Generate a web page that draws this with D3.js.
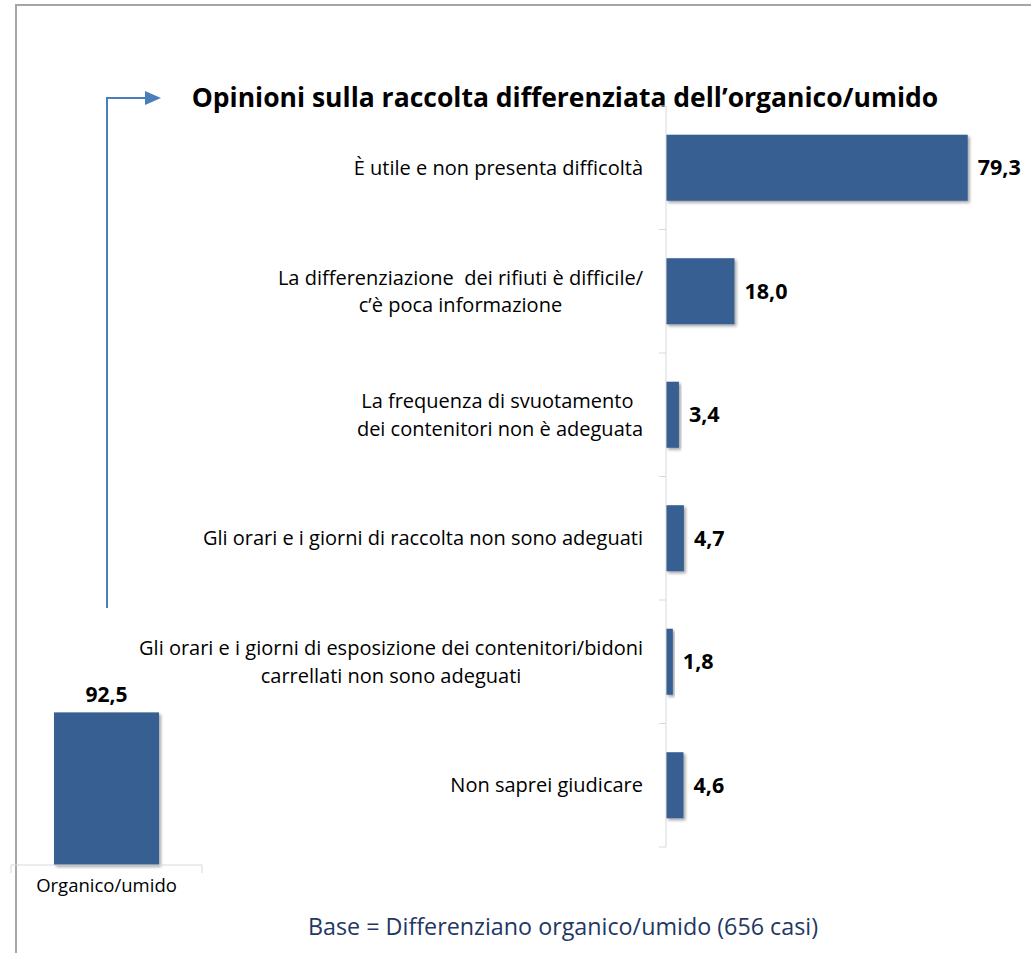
<!DOCTYPE html>
<html>
<head>
<meta charset="utf-8">
<script src="https://cdn.jsdelivr.net/npm/d3@7"></script>
<style>
  body { margin: 0; background: #fff; }
  text { font-family: "Open Sans", "Noto Sans", sans-serif; }
</style>
</head>
<body>
<div id="chart"></div>
<script>
const title = 'Opinioni sulla raccolta differenziata dell’organico/umido';
const footnote = 'Base = Differenziano organico/umido (656 casi)';

const totalCategories = ['Organico/umido'];
const totalValues = [92.5];

const opinionLabels = [
    ['È utile e non presenta difficoltà'],
    ['La differenziazione  dei rifiuti è difficile/', 'c’è poca informazione'],
    ['La frequenza di svuotamento ', 'dei contenitori non è adeguata'],
    ['Gli orari e i giorni di raccolta non sono adeguati'],
    ['Gli orari e i giorni di esposizione dei contenitori/bidoni', 'carrellati non sono adeguati'],
    ['Non saprei giudicare']
];
const opinionValues = [79.3, 18.0, 3.4, 4.7, 1.8, 4.6];

const fmt = (v) => v.toFixed(1).replace('.', ',');

const width = 1031;
const height = 953;
const barColor = '#375f92';

const svg = d3.select('#chart')
    .append('svg')
    .attr('width', width)
    .attr('height', height);

const defs = svg.append('defs');
defs.append('filter')
    .attr('id', 'shadow')
    .attr('x', '-10%').attr('y', '-10%')
    .attr('width', '130%').attr('height', '130%')
    .append('feDropShadow')
    .attr('dx', 2).attr('dy', 2)
    .attr('stdDeviation', 1.5)
    .attr('flood-color', '#000')
    .attr('flood-opacity', 0.35);

// frame
svg.append('rect')
    .attr('x', 16).attr('y', 5)
    .attr('width', 1100).attr('height', 1000)
    .attr('fill', 'none')
    .attr('stroke', '#a6a6a6')
    .attr('stroke-width', 2);

// title
svg.append('text')
    .attr('x', 565).attr('y', 107)
    .attr('text-anchor', 'middle')
    .attr('font-size', 26.5)
    .attr('font-weight', 'bold')
    .attr('fill', '#000')
    .text(title);

// connector arrow
svg.append('path')
    .attr('d', 'M107,608 V98 H146')
    .attr('fill', 'none')
    .attr('stroke', '#4a7ebb')
    .attr('stroke-width', 2);
svg.append('path')
    .attr('d', 'M145,91 L161,98 L145,105 Z')
    .attr('fill', '#4a7ebb');

// ---- left: total column ----
const xTot = d3.scaleBand()
    .domain(totalCategories)
    .range([11, 202])
    .paddingInner(0.45)
    .paddingOuter(0.225);

const yTot = d3.scaleLinear()
    .domain([0, 100])
    .range([865, 700]);

const left = svg.append('g');

left.selectAll('rect')
    .data(totalValues)
    .join('rect')
    .attr('x', (d, i) => xTot(totalCategories[i]))
    .attr('y', (d) => yTot(d))
    .attr('width', xTot.bandwidth())
    .attr('height', (d) => yTot(0) - yTot(d))
    .attr('fill', barColor)
    .attr('filter', 'url(#shadow)');

left.selectAll('text.val')
    .data(totalValues)
    .join('text')
    .attr('class', 'val')
    .attr('x', (d, i) => xTot(totalCategories[i]) + xTot.bandwidth() / 2)
    .attr('y', (d) => yTot(d) - 10)
    .attr('text-anchor', 'middle')
    .attr('font-size', 21)
    .attr('font-weight', 'bold')
    .text(fmt);

const xAxisTot = d3.axisBottom(xTot).tickSize(0).tickPadding(14);
const gx = left.append('g')
    .attr('transform', `translate(0,${yTot(0)})`)
    .call(xAxisTot);
gx.select('.domain').attr('stroke', '#d9d9d9').attr('d', 'M11,8V0H202V8');
gx.selectAll('text')
    .attr('font-size', 18.5)
    .attr('fill', '#000')
    .style('font-family', '"Open Sans", sans-serif');

// ---- right: opinion bars ----
const idx = opinionValues.map((d, i) => i);

const y = d3.scaleBand()
    .domain(idx)
    .range([106, 847])
    .paddingInner(0.465)
    .paddingOuter(0.2325);

const x = d3.scaleLinear()
    .domain([0, 100])
    .range([666, 1046.5]);

const right = svg.append('g');

right.selectAll('rect')
    .data(opinionValues)
    .join('rect')
    .attr('x', x(0))
    .attr('y', (d, i) => y(i))
    .attr('width', (d) => x(d) - x(0))
    .attr('height', y.bandwidth())
    .attr('fill', barColor)
    .attr('filter', 'url(#shadow)');

right.selectAll('text.val')
    .data(opinionValues)
    .join('text')
    .attr('class', 'val')
    .attr('x', (d) => x(d) + 10)
    .attr('y', (d, i) => y(i) + y.bandwidth() / 2)
    .attr('dy', '0.36em')
    .attr('font-size', 21.5)
    .attr('font-weight', 'bold')
    .text(fmt);

// category axis with ticks at band boundaries
const yAxis = d3.axisLeft(y).tickSize(0).tickFormat('');
const gy = right.append('g')
    .attr('transform', `translate(${x(0)},0)`)
    .call(yAxis);
gy.select('.domain').attr('stroke', '#d9d9d9').attr('d', 'M0,106V847');
const step = y.step();
const bounds = d3.range(opinionValues.length + 1).map((i) => 106 + i * step);
gy.selectAll('line.sep')
    .data(bounds)
    .join('line')
    .attr('class', 'sep')
    .attr('x1', -7).attr('x2', 0)
    .attr('y1', (d) => d).attr('y2', (d) => d)
    .attr('stroke', '#d9d9d9');

// category labels, multi-line, block right-aligned and lines centered
const lineH = 27.5;
const labels = right.append('g');
opinionLabels.forEach((lines, i) => {
    const g = labels.append('g');
    const cy = y(i) + y.bandwidth() / 2;
    const texts = lines.map((l, j) => g.append('text')
        .attr('y', cy + (j - (lines.length - 1) / 2) * lineH)
        .attr('dy', '0.36em')
        .attr('font-size', 20)
        .attr('fill', '#000')
        .attr('text-anchor', 'middle')
        .style('white-space', 'pre')
        .text(l));
    const w = d3.max(texts, (t) => t.node().getComputedTextLength());
    const cx = 643 - w / 2;
    texts.forEach((t) => t.attr('x', cx));
});

// footnote
svg.append('text')
    .attr('x', 308).attr('y', 935)
    .attr('font-size', 23.3)
    .attr('fill', '#1f3864')
    .text(footnote);
</script>
</body>
</html>
